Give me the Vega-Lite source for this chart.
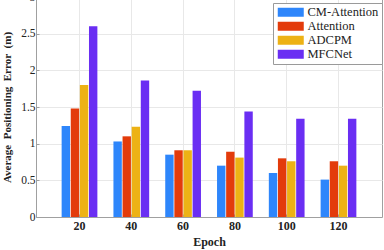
{
  "$schema": "https://vega.github.io/schema/vega-lite/v6.json",
  "width": 346,
  "height": 220,
  "autosize": {"type": "none"},
  "padding": {"left": 36, "top": -3, "right": 2, "bottom": 33},
  "background": "white",
  "config": {
    "font": "Liberation Serif, Times New Roman, serif",
    "view": {"stroke": "#a0a0a0", "strokeWidth": 1},
    "axis": {"domainColor": "#a0a0a0", "tickColor": "#a0a0a0", "gridColor": "#e8e8e8", "labelColor": "#222", "titleColor": "#222", "labelFont": "Liberation Serif, Times New Roman, serif", "titleFont": "Liberation Serif, Times New Roman, serif"},
    "legend": {"labelFont": "Liberation Serif, Times New Roman, serif"}
  },
  "data": {"values": [
    {"epoch": "20", "method": "CM-Attention", "err": 1.24},
    {"epoch": "20", "method": "Attention", "err": 1.48},
    {"epoch": "20", "method": "ADCPM", "err": 1.80},
    {"epoch": "20", "method": "MFCNet", "err": 2.60},
    {"epoch": "40", "method": "CM-Attention", "err": 1.03},
    {"epoch": "40", "method": "Attention", "err": 1.10},
    {"epoch": "40", "method": "ADCPM", "err": 1.23},
    {"epoch": "40", "method": "MFCNet", "err": 1.86},
    {"epoch": "60", "method": "CM-Attention", "err": 0.85},
    {"epoch": "60", "method": "Attention", "err": 0.91},
    {"epoch": "60", "method": "ADCPM", "err": 0.91},
    {"epoch": "60", "method": "MFCNet", "err": 1.72},
    {"epoch": "80", "method": "CM-Attention", "err": 0.70},
    {"epoch": "80", "method": "Attention", "err": 0.89},
    {"epoch": "80", "method": "ADCPM", "err": 0.81},
    {"epoch": "80", "method": "MFCNet", "err": 1.44},
    {"epoch": "100", "method": "CM-Attention", "err": 0.60},
    {"epoch": "100", "method": "Attention", "err": 0.80},
    {"epoch": "100", "method": "ADCPM", "err": 0.76},
    {"epoch": "100", "method": "MFCNet", "err": 1.34},
    {"epoch": "120", "method": "CM-Attention", "err": 0.51},
    {"epoch": "120", "method": "Attention", "err": 0.76},
    {"epoch": "120", "method": "ADCPM", "err": 0.70},
    {"epoch": "120", "method": "MFCNet", "err": 1.34}
  ]},
  "mark": {"type": "bar"},
  "encoding": {
    "x": {
      "field": "epoch", "type": "ordinal", "sort": ["20", "40", "60", "80", "100", "120"],
      "scale": {"paddingInner": 0.31, "paddingOuter": 0.495},
      "axis": {"title": "Epoch", "titleFontSize": 12, "titleFontWeight": "bold", "titlePadding": 5, "labelAngle": 0, "labelFontSize": 12, "labelFontWeight": "bold", "labelPadding": 6, "bandPosition": 0.5, "grid": true, "tickSize": -3, "ticks": true}
    },
    "xOffset": {"field": "method", "type": "nominal", "sort": ["CM-Attention", "Attention", "ADCPM", "MFCNet"], "scale": {"paddingInner": 0.08, "paddingOuter": 0}},
    "y": {
      "field": "err", "type": "quantitative",
      "scale": {"domain": [0, 3], "nice": false},
      "axis": {"title": "Average\u00a0\u00a0Positioning\u00a0\u00a0Error\u00a0\u00a0(m)", "titleFontSize": 11, "titleFontWeight": "bold", "titlePadding": 8, "values": [0, 0.5, 1, 1.5, 2, 2.5, 3], "format": "~g", "labelFontSize": 11.5, "labelPadding": 4, "grid": true, "tickSize": -3}
    },
    "color": {
      "field": "method", "type": "nominal", "sort": ["CM-Attention", "Attention", "ADCPM", "MFCNet"],
      "scale": {"domain": ["CM-Attention", "Attention", "ADCPM", "MFCNet"], "range": ["#2e86fb", "#e33b0b", "#edb215", "#6a2ef3"]},
      "legend": {
        "title": null, "orient": "none", "legendX": 237, "legendY": 6,
        "strokeColor": "#9a9a9a", "fillColor": "white", "padding": 3,
        "symbolType": "M-1,-1H4.78V1H-1Z", "symbolSize": 81, "symbolStrokeWidth": 0, "symbolOpacity": 1,
        "labelFontSize": 12.5, "labelColor": "#222", "labelOffset": 19, "rowPadding": 1
      }
    }
  }
}
